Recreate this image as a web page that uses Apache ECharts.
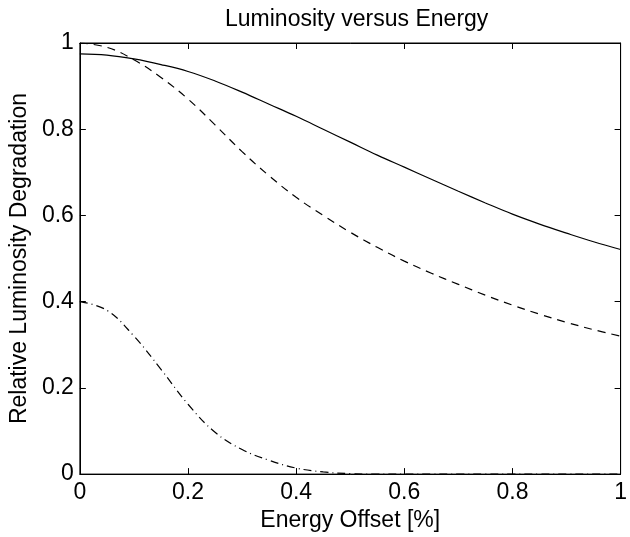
<!DOCTYPE html>
<html>
<head>
<meta charset="utf-8">
<script src="https://cdn.jsdelivr.net/npm/echarts@6/dist/echarts.min.js"></script>
<style>html,body{margin:0;padding:0;background:#fff}#c{width:630px;height:537px}</style>
</head>
<body>
<div id="c"></div>
<script>
const energyOffset = [0, 0.05, 0.1, 0.15, 0.2, 0.25, 0.3, 0.35, 0.4, 0.45, 0.5, 0.55, 0.6, 0.65, 0.7, 0.75, 0.8, 0.85, 0.9, 0.95, 1.0];
const solidCurve = [0.975, 0.972, 0.963, 0.950, 0.934, 0.912, 0.886, 0.858, 0.830, 0.800, 0.770, 0.740, 0.712, 0.684, 0.656, 0.629, 0.603, 0.580, 0.559, 0.539, 0.521];
const dashedCurve = [1.0, 0.99, 0.961, 0.92, 0.87, 0.81, 0.748, 0.692, 0.642, 0.600, 0.561, 0.526, 0.494, 0.466, 0.440, 0.415, 0.392, 0.371, 0.352, 0.335, 0.320];
const dashDotCurve = [0.40, 0.38, 0.32, 0.243, 0.162, 0.097, 0.057, 0.032, 0.014, 0.005, 0.001, 0, 0, 0, 0, 0, 0, 0, 0, 0, 0];
const xTicks = [0, 0.2, 0.4, 0.6, 0.8, 1];
const yTicks = [0, 0.2, 0.4, 0.6, 0.8, 1];

const font = 'Liberation Sans, Arial, sans-serif';
const pair = arr => energyOffset.map((x, i) => [x, arr[i]]);
const fmt = v => (v === 0 || v === 1) ? String(v) : String(Math.round(v * 10) / 10);

function axis(extra) {
  return Object.assign({
    type: 'value',
    interval: 0.2,
    axisLine: { show: true, onZero: false, lineStyle: { color: '#000', width: 1 } },
    axisTick: { show: true, inside: true, length: 6, lineStyle: { color: '#000', width: 1 } },
    splitLine: { show: false }
  }, extra);
}

const chart = echarts.init(document.getElementById('c'), null, { renderer: 'canvas' });
chart.setOption({
  backgroundColor: '#fff',
  animation: false,
  title: {
    text: 'Luminosity versus Energy',
    left: 220, top: 3,
    textStyle: { fontFamily: font, fontSize: 23, fontWeight: 'normal', color: '#000' }
  },
  grid: { show: true, borderColor: '#000', borderWidth: 1, backgroundColor: 'transparent',
          left: 76, right: 2, top: 43, bottom: 60, containLabel: false },
  xAxis: [
    axis({
      position: 'bottom', min: xTicks[0], max: xTicks[xTicks.length - 1],
      name: 'Energy Offset [%]', nameLocation: 'middle', nameGap: 31,
      nameTextStyle: { fontFamily: font, fontSize: 23, color: '#000' },
      axisLabel: { show: true, margin: 7, fontFamily: font, fontSize: 23, color: '#000', formatter: fmt }
    }),
    axis({
      position: 'top', min: xTicks[0], max: xTicks[xTicks.length - 1], axisLabel: { show: false }
    })
  ],
  yAxis: [
    axis({
      position: 'left', min: yTicks[0], max: yTicks[yTicks.length - 1],
      name: 'Relative Luminosity Degradation', nameLocation: 'middle', nameGap: 40, nameRotate: 90,
      nameTextStyle: { fontFamily: font, fontSize: 23, color: '#000' },
      axisLabel: { show: true, margin: 6, fontFamily: font, fontSize: 23, color: '#000', formatter: fmt }
    }),
    axis({
      position: 'right', min: yTicks[0], max: yTicks[yTicks.length - 1], axisLabel: { show: false }
    })
  ],
  series: [
    { type: 'line', data: pair(solidCurve), smooth: 0.4, showSymbol: false, symbol: 'none',
      lineStyle: { color: '#000', width: 1.2, type: 'solid' } },
    { type: 'line', data: pair(dashedCurve), smooth: 0.4, showSymbol: false, symbol: 'none',
      lineStyle: { color: '#000', width: 1.2, type: [8, 6] } },
    { type: 'line', data: pair(dashDotCurve), smooth: 0.4, showSymbol: false, symbol: 'none',
      lineStyle: { color: '#000', width: 1.2, type: [8, 4, 1, 4] } },
    { type: 'line', xAxisIndex: 1, yAxisIndex: 1, data: pair(solidCurve), silent: true,
      showSymbol: false, symbol: 'none', lineStyle: { opacity: 0 } }
  ]
});
</script>
</body>
</html>
